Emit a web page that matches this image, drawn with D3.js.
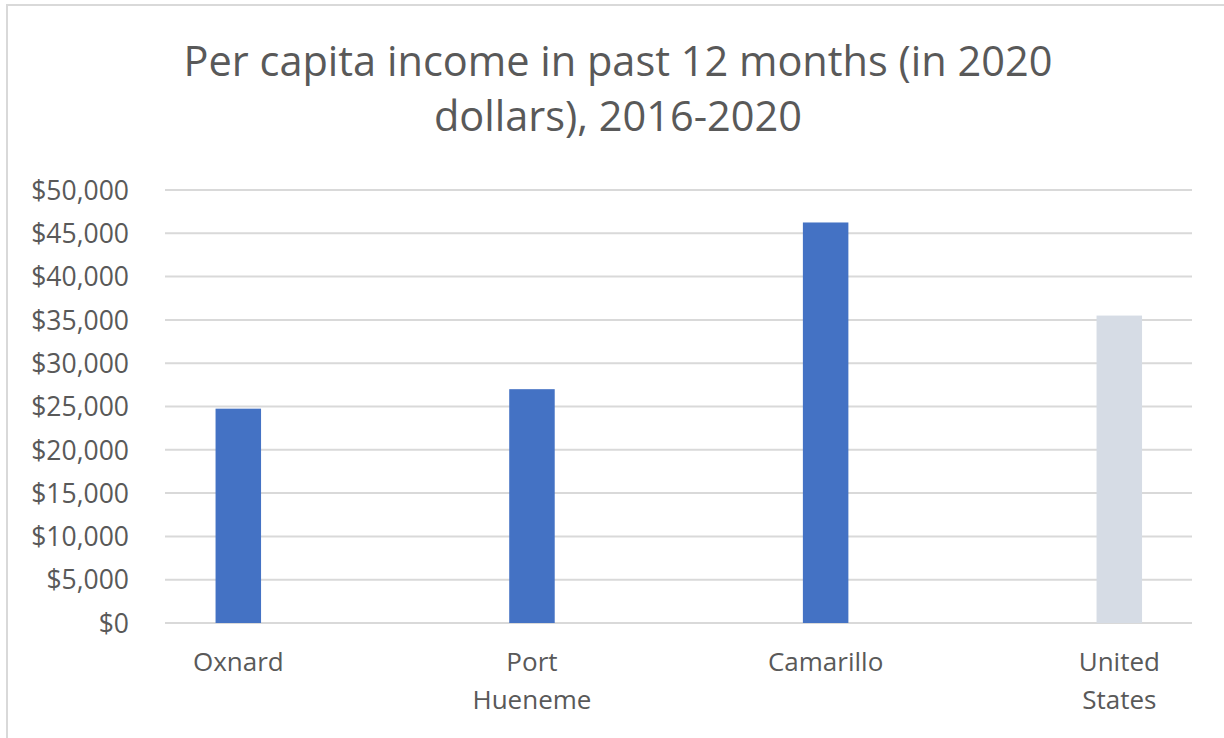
<!DOCTYPE html>
<html>
<head>
<meta charset="utf-8">
<script src="https://cdn.jsdelivr.net/npm/d3@7"></script>
<style>
  html, body { margin: 0; padding: 0; background: #ffffff; }
  svg { display: block; }
</style>
</head>
<body>
<div id="chart"></div>
<script>
// Per capita income, 2016-2020 five-year estimates (2020 dollars)
const categories = [["Oxnard"], ["Port", "Hueneme"], ["Camarillo"], ["United", "States"]];
const incomeValues = [24750, 27000, 46250, 35500];
const barColors = ["#4472C4", "#4472C4", "#4472C4", "#D6DCE5"];
const tickValues = [0, 5000, 10000, 15000, 20000, 25000, 30000, 35000, 40000, 45000, 50000];
const titleLines = ["Per capita income in past 12 months (in 2020", "dollars), 2016-2020"];

const W = 1224, H = 738;
const textColor = "#595959";
const gridColor = "#d9d9d9";
const fontFamily = "'Open Sans', 'Noto Sans', sans-serif";

const svg = d3.select("#chart").append("svg")
  .attr("width", W).attr("height", H);

// chart frame
svg.append("rect")
  .attr("x", 7).attr("y", 5)
  .attr("width", W + 20).attr("height", H + 20)
  .attr("fill", "#ffffff")
  .attr("stroke", gridColor).attr("stroke-width", 2);

const keys = categories.map(c => c.join(" "));
const plotLeft = 165, plotRight = 1192;

const x = d3.scalePoint().domain(keys).range([238.3, 1119.3]);
const y = d3.scaleLinear().domain([0, 50000]).range([623, 190]);
const barWidth = 45.5;

// horizontal gridlines
svg.append("g").selectAll("line")
  .data(tickValues)
  .join("line")
  .attr("x1", plotLeft).attr("x2", plotRight)
  .attr("y1", d => y(d)).attr("y2", d => y(d))
  .attr("stroke", gridColor).attr("stroke-width", 2);

// y-axis tick labels
const yAxis = d3.axisLeft(y)
  .tickValues(tickValues)
  .tickFormat(d3.format("$,"))
  .tickSize(0)
  .tickPadding(0);
const yg = svg.append("g").attr("transform", "translate(129,0)").call(yAxis);
yg.select(".domain").remove();
yg.selectAll("text")
  .attr("fill", textColor)
  .attr("font-family", fontFamily)
  .attr("font-size", 26.5)
  .attr("dy", "0.35em");

// bars
svg.append("g").selectAll("rect")
  .data(incomeValues)
  .join("rect")
  .attr("x", (d, i) => x(keys[i]) - barWidth / 2)
  .attr("width", barWidth)
  .attr("y", d => y(d))
  .attr("height", d => y(0) - y(d))
  .attr("fill", (d, i) => barColors[i]);

// category labels
const catG = svg.append("g");
categories.forEach((lines, i) => {
  const t = catG.append("text")
    .attr("x", x(keys[i]))
    .attr("y", 671)
    .attr("text-anchor", "middle")
    .attr("fill", textColor)
    .attr("font-family", fontFamily)
    .attr("font-size", 26);
  lines.forEach((ln, j) => {
    t.append("tspan").attr("x", x(keys[i])).attr("dy", j === 0 ? 0 : 38).text(ln);
  });
});

// title
const title = svg.append("text")
  .attr("text-anchor", "middle")
  .attr("fill", textColor)
  .attr("font-family", fontFamily)
  .attr("font-size", 41.5);
titleLines.forEach((ln, j) => {
  title.append("tspan").attr("x", 618).attr("y", 76 + j * 55).text(ln);
});
</script>
</body>
</html>
